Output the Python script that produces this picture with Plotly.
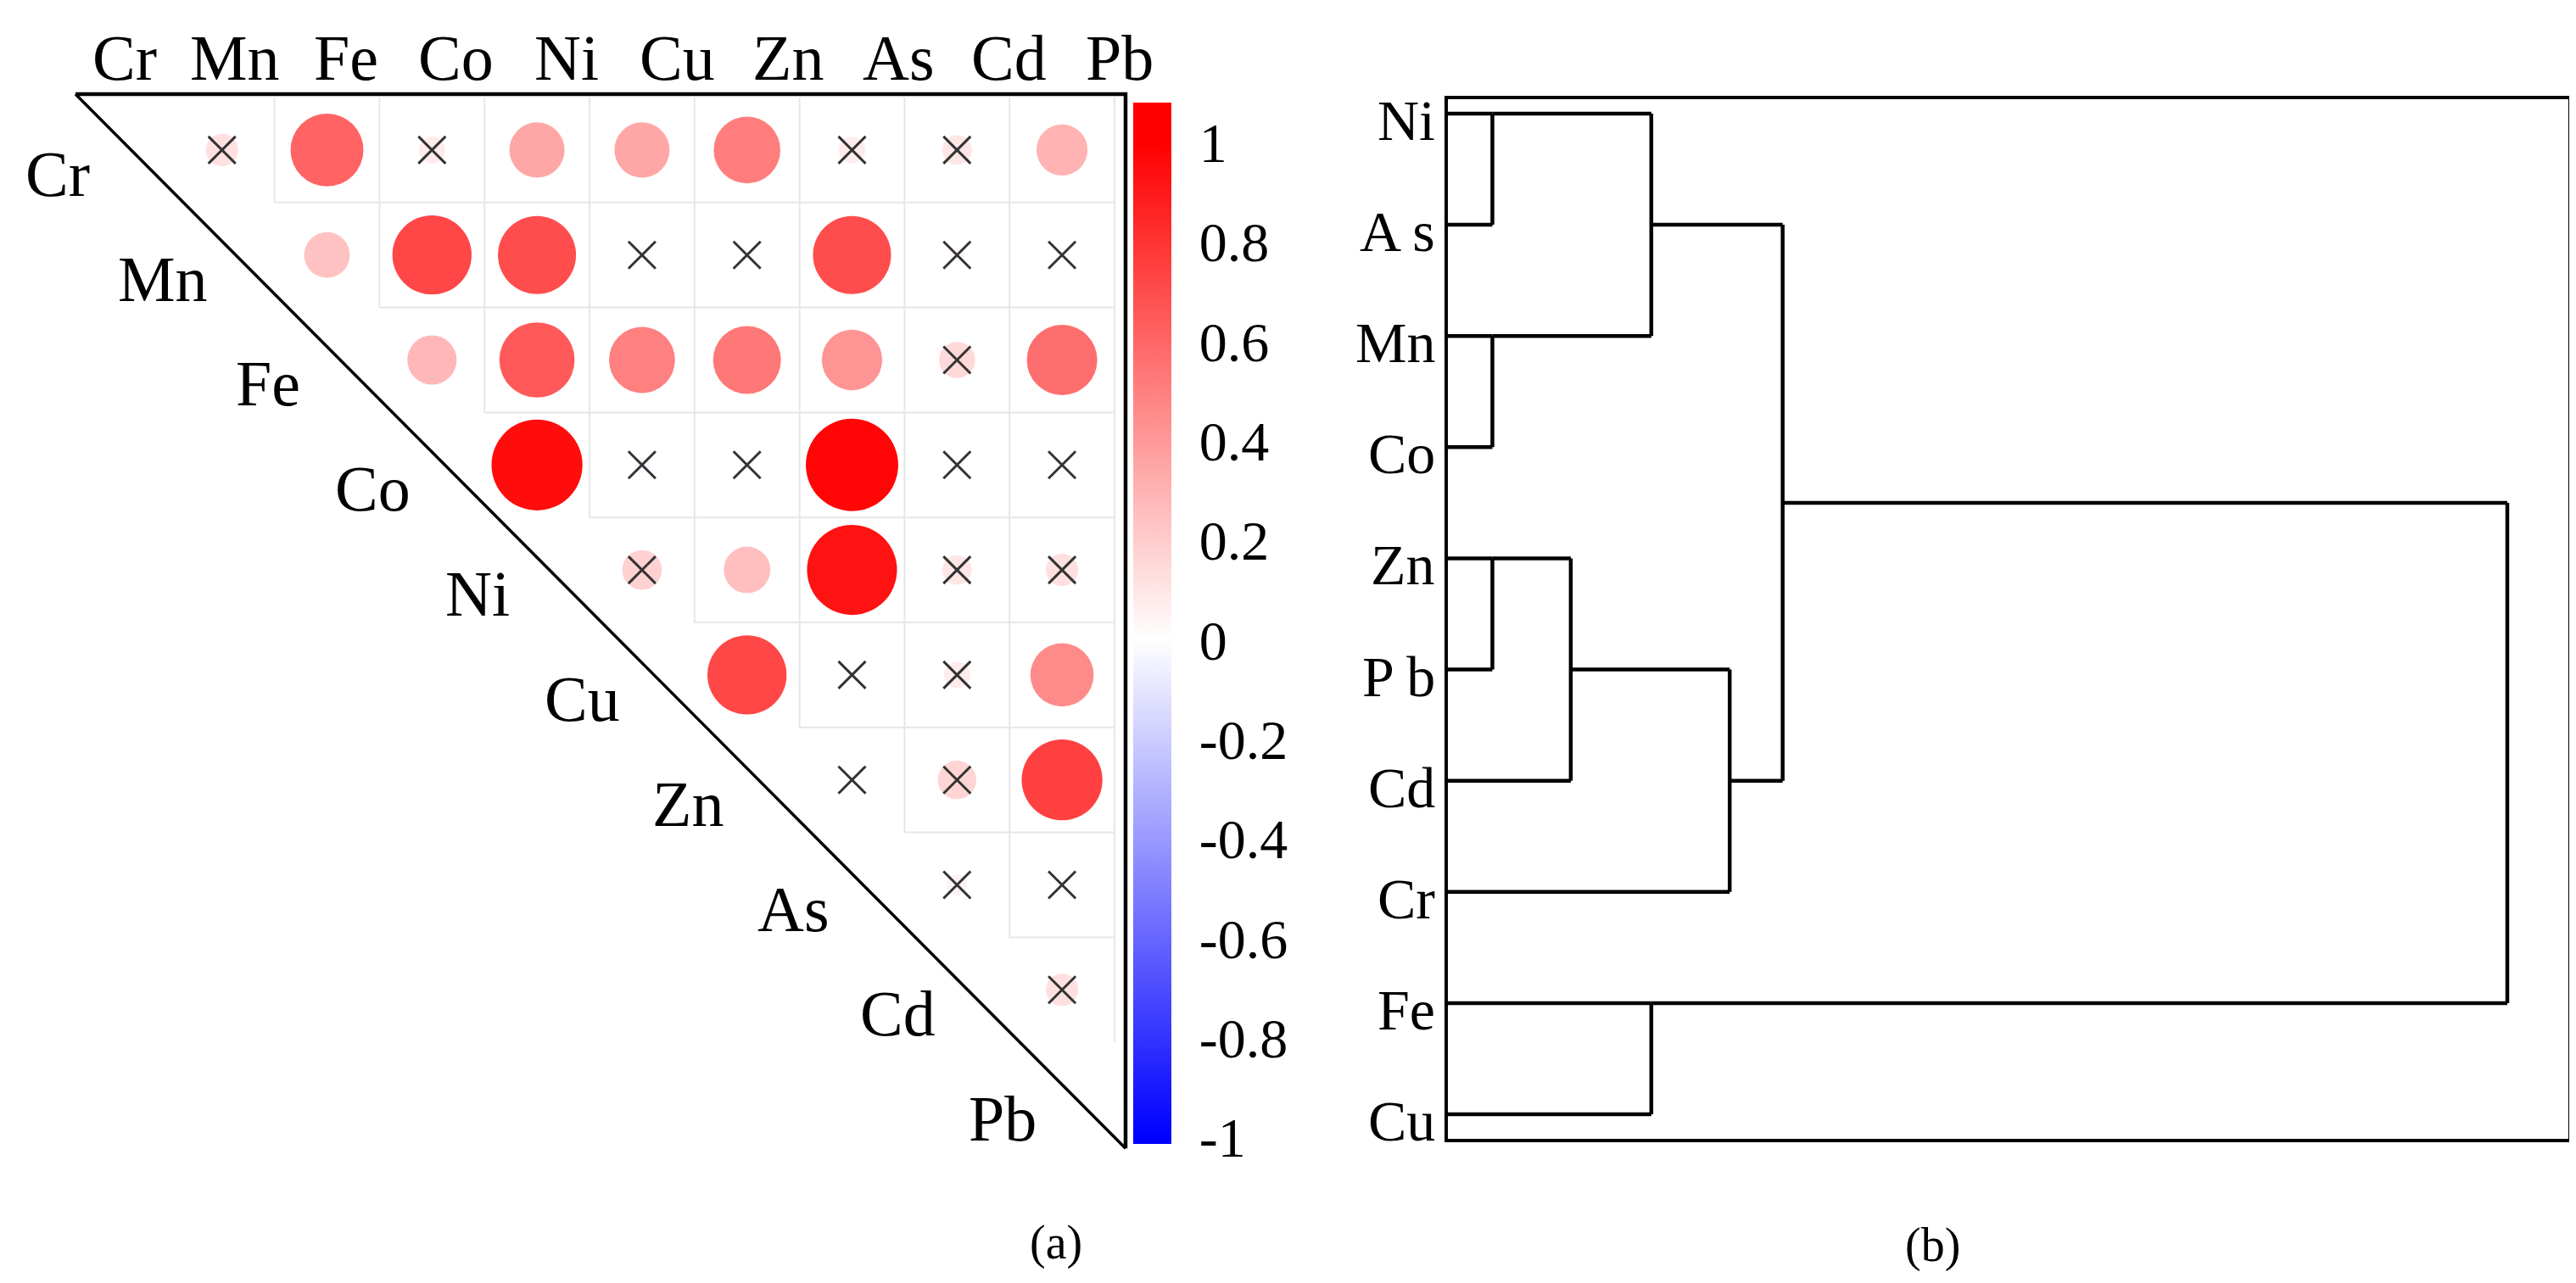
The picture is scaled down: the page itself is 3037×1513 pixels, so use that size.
import numpy as np
import plotly.graph_objects as go

# ---------------- data ----------------
elements = ["Cr", "Mn", "Fe", "Co", "Ni", "Cu", "Zn", "As", "Cd", "Pb"]

# upper-triangle Pearson r, each row = element vs. the elements after it
r_Cr = [0.12, 0.61, 0.08, 0.35, 0.35, 0.51, 0.08, 0.10, 0.30]
r_Mn = [0.24, 0.72, 0.70, 0.02, 0.02, 0.70, 0.03, 0.02]
r_Fe = [0.28, 0.65, 0.50, 0.53, 0.42, 0.15, 0.57]
r_Co = [0.95, -0.03, 0.02, 0.98, 0.02, 0.02]
r_Ni = [0.18, 0.25, 0.93, 0.10, 0.12]
r_Cu = [0.72, 0.02, 0.08, 0.46]
r_Zn = [0.02, 0.17, 0.75]
r_As = [0.05, 0.02]
r_Cd = [0.12]

# significance (False -> marked with a cross)
s_Cr = [False, True, False, True, True, True, False, False, True]
s_Mn = [True, True, True, False, False, True, False, False]
s_Fe = [True, True, True, True, True, False, True]
s_Co = [True, False, False, True, False, False]
s_Ni = [False, True, True, False, False]
s_Cu = [True, False, False, True]
s_Zn = [False, False, True]
s_As = [False, False]
s_Cd = [False]

cbar_ticks = [1, 0.8, 0.6, 0.4, 0.2, 0, -0.2, -0.4, -0.6, -0.8, -1]
cbar_labels = ["1", "0.8", "0.6", "0.4", "0.2", "0", "-0.2", "-0.4", "-0.6", "-0.8", "-1"]

# dendrogram (rescaled distance), leaf order top to bottom
dendro_leaves = ["Ni", "As", "Mn", "Co", "Zn", "Pb", "Cd", "Cr", "Fe", "Cu"]
dendro_labels = ["Ni", "A s", "Mn", "Co", "Zn", "P b", "Cd", "Cr", "Fe", "Cu"]
merge_a = [0, 2, 4, 12, 10, 8, 13, 14, 17]
merge_b = [1, 3, 5, 6, 11, 9, 7, 16, 15]
merge_dist = [1.05, 1.05, 1.05, 2.9, 4.8, 4.8, 6.65, 7.9, 25.0]

# ---------------- layout constants (pixels) ----------------
W, H = 3037, 1513
FONT = "Liberation Serif"
CELL = 123.8
GL, GT = 68, 107          # grid left / top in px
n = len(elements)


def fx(p):
    return p / W


def fy(p):
    return 1 - p / H


x_rng = [-0.6, n - 0.3]
y_rng = [n - 0.4, -0.6]
x_dom = [fx(GL + (x_rng[0] + 0.5) * CELL), fx(GL + (x_rng[1] + 0.5) * CELL)]
y_dom = [fy(GT + (y_rng[0] + 0.5) * CELL), fy(GT + (y_rng[1] + 0.5) * CELL)]

# ---------------- build correlation cells ----------------
rows_r = [r_Cr, r_Mn, r_Fe, r_Co, r_Ni, r_Cu, r_Zn, r_As, r_Cd]
rows_s = [s_Cr, s_Mn, s_Fe, s_Co, s_Ni, s_Cu, s_Zn, s_As, s_Cd]
cx, cy, cv, csig = [], [], [], []
for i, (rr, ss) in enumerate(zip(rows_r, rows_s)):
    for k, (v, s) in enumerate(zip(rr, ss)):
        cx.append(i + 1 + k)
        cy.append(i)
        cv.append(v)
        csig.append(s)
cv = np.array(cv)
sizes = 110 * np.sqrt(np.abs(cv))

# colour bar: bar spans 113..1341 px, labels 1 at 160 px and -1 at 1333 px
CB_T, CB_B, LAB_1, LAB_M1 = 113, 1341, 160, 1333
ppu = (LAB_M1 - LAB_1) / 2.0
cmax = 1 + (LAB_1 - CB_T) / ppu
cmin = -1 - (CB_B - LAB_M1) / ppu
span = cmax - cmin
p_blue = (-1 - cmin) / span
p_white = (0 - cmin) / span
p_red = (1 - cmin) / span
cscale = [[0, "#0000FF"], [p_blue, "#0000FF"], [p_white, "#FFFFFF"], [p_red, "#FF0000"], [1, "#FF0000"]]

fig = go.Figure()

# light grid between upper-triangle cells
gx, gy = [], []
for j in range(2, n + 1):
    gx += [j - 0.5, j - 0.5, None]
    gy += [-0.5, j - 1.5, None]
for i in range(n - 2):
    gx += [i + 1.5, n - 0.5, None]
    gy += [i + 0.5, i + 0.5, None]
fig.add_trace(go.Scatter(x=gx, y=gy, mode="lines", line=dict(color="#e6e6e6", width=2),
                         hoverinfo="skip", xaxis="x", yaxis="y"))

fig.add_trace(go.Scatter(
    x=cx, y=cy, mode="markers", xaxis="x", yaxis="y",
    marker=dict(size=sizes, color=cv, colorscale=cscale, cmin=cmin, cmax=cmax,
                line=dict(width=0), opacity=1,
                colorbar=dict(x=fx(1328), xanchor="left", xpad=0, thickness=45,
                              len=(CB_B - CB_T) / H, lenmode="fraction",
                              y=fy((CB_T + CB_B) / 2), yanchor="middle", ypad=0, outlinewidth=0,
                              tickvals=cbar_ticks, ticktext=cbar_labels,
                              ticks="outside", ticklen=20, tickwidth=1, tickcolor="rgba(0,0,0,0)",
                              tickfont=dict(family=FONT, size=66, color="black"))),
    hovertemplate="%{marker.color:.2f}<extra></extra>"))

nx = [x for x, s in zip(cx, csig) if not s]
ny = [y for y, s in zip(cy, csig) if not s]
fig.add_trace(go.Scatter(x=nx, y=ny, mode="markers", xaxis="x", yaxis="y",
                         marker=dict(symbol="x-thin", size=32, line=dict(width=3, color="#333333"),
                                     color="#333333"),
                         hoverinfo="skip"))

# triangle frame
D = 0.105
TOPY = -0.532
fig.add_trace(go.Scatter(x=[-0.5 + D, n - 0.5 + D, n - 0.5 + D], y=[TOPY, TOPY, n - 0.49],
                         mode="lines", line=dict(color="black", width=4.5),
                         hoverinfo="skip", xaxis="x", yaxis="y"))
fig.add_trace(go.Scatter(x=[-0.5 + D, n - 0.5 + D], y=[TOPY, n - 0.49],
                         mode="lines", line=dict(color="black", width=3.5),
                         hoverinfo="skip", xaxis="x", yaxis="y"))

# ---------------- dendrogram ----------------
nl = len(dendro_leaves)
node_y = {i: float(i) for i in range(nl)}
node_x = {i: 0.0 for i in range(nl)}
dx, dy = [], []
for k, (a, b, h) in enumerate(zip(merge_a, merge_b, merge_dist)):
    for c in (a, b):
        dx += [node_x[c], h, None]
        dy += [node_y[c], node_y[c], None]
    dx += [h, h, None]
    dy += [node_y[a], node_y[b], None]
    nid = nl + k
    node_y[nid] = node_y[a] if (a < nl and b < nl) else (node_y[a] + node_y[b]) / 2
    node_x[nid] = h
fig.add_trace(go.Scatter(x=dx, y=dy, mode="lines", line=dict(color="black", width=4.5),
                         hoverinfo="skip", xaxis="x2", yaxis="y2"))

LEAF0, LEAFN = 126, 1306
upx = (LEAFN - LEAF0) / (nl - 1)
BOX_T, BOX_B, BOX_L, BOX_R = 109, 1335, 1699, 3020
dpx = (2948 - BOX_L) / 25.0

annotations = []
# column labels along the top (slightly wider spacing than the cells)
LAB0, LABSTEP = 139, 130.3
for j, lab in enumerate(elements):
    annotations.append(dict(x=fx(LAB0 + LABSTEP * j), y=fy(60), xref="paper", yref="paper",
                            text=lab, showarrow=False, xanchor="center", yanchor="middle",
                            font=dict(family=FONT, size=76, color="black")))
# row labels along the diagonal
for i, lab in enumerate(elements):
    annotations.append(dict(x=i, y=i, xref="x", yref="y", text=lab, showarrow=False,
                            xanchor="center", yanchor="middle", xshift=-70, yshift=-28,
                            font=dict(family=FONT, size=76, color="black")))
for i, lab in enumerate(dendro_labels):
    annotations.append(dict(x=fx(1686), y=i, xref="paper", yref="y2", text=lab, showarrow=False,
                            xanchor="right", yanchor="middle", yshift=-8,
                            font=dict(family=FONT, size=68, color="black")))
annotations.append(dict(x=fx(1237), y=fy(1457), xref="paper", yref="paper", text="(a)",
                        showarrow=False, xanchor="center", yanchor="middle",
                        font=dict(family=FONT, size=56, color="black")))
annotations.append(dict(x=fx(2270), y=fy(1460), xref="paper", yref="paper", text="(b)",
                        showarrow=False, xanchor="center", yanchor="middle",
                        font=dict(family=FONT, size=56, color="black")))

fig.update_layout(
    width=W, height=H, autosize=False,
    margin=dict(l=0, r=0, t=0, b=0),
    paper_bgcolor="white", plot_bgcolor="rgba(0,0,0,0)",
    showlegend=False,
    font=dict(family=FONT, color="black"),
    xaxis=dict(domain=x_dom, range=x_rng, visible=False, fixedrange=True),
    yaxis=dict(domain=y_dom, range=y_rng, visible=False, fixedrange=True),
    xaxis2=dict(domain=[fx(BOX_L), fx(BOX_R)], range=[0, (BOX_R - BOX_L) / dpx], anchor="y2",
                showline=True, mirror=True, linecolor="black", linewidth=4,
                showticklabels=False, ticks="", showgrid=False, zeroline=False),
    yaxis2=dict(domain=[fy(BOX_B), fy(BOX_T)],
                range=[(nl - 1) + (BOX_B - LEAFN) / upx, -(LEAF0 - BOX_T) / upx], anchor="x2",
                showline=True, mirror=True, linecolor="black", linewidth=4,
                showticklabels=False, ticks="", showgrid=False, zeroline=False),
    annotations=annotations,
)

fig.write_html("out.html")
